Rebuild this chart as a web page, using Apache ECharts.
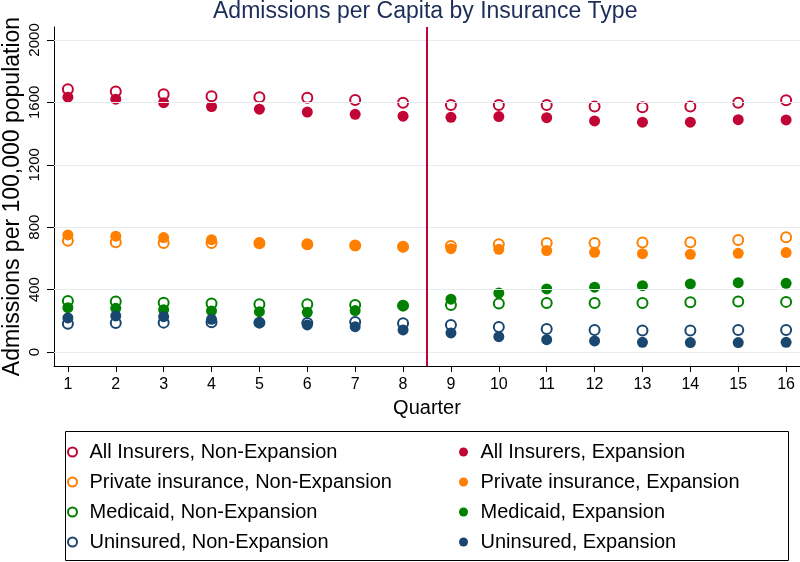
<!DOCTYPE html>
<html>
<head>
<meta charset="utf-8">
<script src="https://cdn.jsdelivr.net/npm/echarts@6/dist/echarts.min.js"></script>
<style>html,body{margin:0;padding:0;background:#fff}#c{width:800px;height:562px}</style>
</head>
<body>
<div id="c"></div>
<script>
const quarters = [1,2,3,4,5,6,7,8,9,10,11,12,13,14,15,16];
const yTicks = [0,400,800,1200,1600,2000];
const policyBreak = 8.5;
const allNon  = [1684,1669,1652,1639,1633,1630,1615,1598,1583,1583,1583,1573,1568,1573,1598,1613];
const allExp  = [1633,1620,1598,1573,1556,1538,1523,1511,1504,1509,1502,1481,1473,1473,1489,1487];
const privNon = [713,703,699,699,697,690,683,675,679,690,699,699,701,703,718,735];
const privExp = [750,742,733,720,701,690,682,673,662,658,650,639,630,626,632,637];
const medNon  = [327,323,316,310,306,306,301,297,301,310,314,314,314,318,323,321];
const medExp  = [284,280,271,263,258,254,265,297,338,378,404,415,425,436,444,440];
const unNon   = [181,186,188,190,188,185,192,184,173,160,147,141,137,137,141,141];
const unExp   = [218,231,226,209,188,173,162,141,122,98,79,71,62,60,60,62];

const FONT = '"Liberation Sans", Arial, Helvetica, sans-serif';
const C = {red:'#c10534', orange:'#ff7f00', green:'#008000', navy:'#1a476f'};

const defs = [
  ['All Insurers, Non-Expansion', allNon, C.red, false],
  ['All Insurers, Expansion', allExp, C.red, true],
  ['Private insurance, Non-Expansion', privNon, C.orange, false],
  ['Private insurance, Expansion', privExp, C.orange, true],
  ['Medicaid, Non-Expansion', medNon, C.green, false],
  ['Medicaid, Expansion', medExp, C.green, true],
  ['Uninsured, Non-Expansion', unNon, C.navy, false],
  ['Uninsured, Expansion', unExp, C.navy, true]
];

const series = [{
  type: 'scatter', name: '_ref', data: [], z: 1, silent: true,
  markLine: {
    silent: true, symbol: 'none', animation: false,
    label: {show: false},
    lineStyle: {color: '#e4ecf0', width: 1, type: 'solid'},
    data: yTicks.map(v => ({yAxis: v}))
  }
}, {
  type: 'scatter', name: '_break', data: [], z: 3, silent: true,
  markLine: {
    silent: true, symbol: 'none', animation: false,
    label: {show: false},
    lineStyle: {color: C.red, width: 2, type: 'solid'},
    data: [{xAxis: policyBreak}]
  }
}];
defs.forEach(([name, vals, col, filled]) => {
  series.push({
    type: 'scatter', name: name, z: 4,
    symbol: filled ? 'circle' : 'emptyCircle',
    symbolSize: filled ? 11 : 10,
    itemStyle: filled ? {color: col, opacity: 1} : {color: col, borderColor: col, borderWidth: 1.6, opacity: 1},
    emphasis: {disabled: true},
    data: quarters.map((q, i) => [q, vals[i]])
  });
});

const legendCommon = {
  orient: 'vertical', padding: 0, itemGap: 10, itemWidth: 24, itemHeight: 9,
  textStyle: {fontFamily: FONT, fontSize: 20, color: '#000', lineHeight: 20},
  selectedMode: false
};

const option = {
  animation: false,
  backgroundColor: '#fff',
  title: {
    text: 'Admissions per Capita by Insurance Type',
    left: 213, top: 0, padding: 0,
    textStyle: {fontFamily: FONT, fontSize: 23, fontWeight: 'normal', color: '#1c2d5a'}
  },
  grid: {left: 54, right: 0, top: 27, bottom: 196, containLabel: false, outerBoundsMode: 'none'},
  xAxis: {
    type: 'value', min: 0.71, max: 16.29,
    name: 'Quarter', nameLocation: 'middle', nameGap: 32, nameMoveOverlap: false,
    nameTextStyle: {fontFamily: FONT, fontSize: 20, color: '#000'},
    axisLine: {show: true, onZero: false, lineStyle: {color: '#000', width: 1}},
    axisTick: {show: true, length: 6, customValues: quarters, lineStyle: {color: '#000'}},
    axisLabel: {customValues: quarters, margin: 11, fontFamily: FONT, fontSize: 16, color: '#000', formatter: v => String(v)},
    splitLine: {show: false}
  },
  yAxis: {
    type: 'value', min: -90, max: 2083,
    name: 'Admissions per 100,000 population', nameLocation: 'middle', nameGap: 30, nameMoveOverlap: false,
    nameTextStyle: {fontFamily: FONT, fontSize: 23, color: '#000'},
    axisLine: {show: true, onZero: false, lineStyle: {color: '#000', width: 1}},
    axisTick: {show: true, length: 7, customValues: yTicks, lineStyle: {color: '#000'}},
    axisLabel: {customValues: yTicks, rotate: 90, margin: 12, fontFamily: FONT, fontSize: 15, color: '#000', formatter: v => String(v)},
    splitLine: {show: false}
  },
  legend: [
    Object.assign({}, legendCommon, {left: 67, top: 442, data: defs.filter(d => !d[3]).map(d => d[0])}),
    Object.assign({}, legendCommon, {left: 459, top: 442, data: defs.filter(d => d[3]).map(d => d[0])})
  ],
  graphic: [{
    type: 'rect', silent: true,
    shape: {x: 65.5, y: 431.5, width: 723, height: 129},
    style: {fill: 'none', stroke: '#000', lineWidth: 1}
  }],
  series: series
};

const chart = echarts.init(document.getElementById('c'), null, {renderer: 'canvas'});
chart.setOption(option);
</script>
</body>
</html>
